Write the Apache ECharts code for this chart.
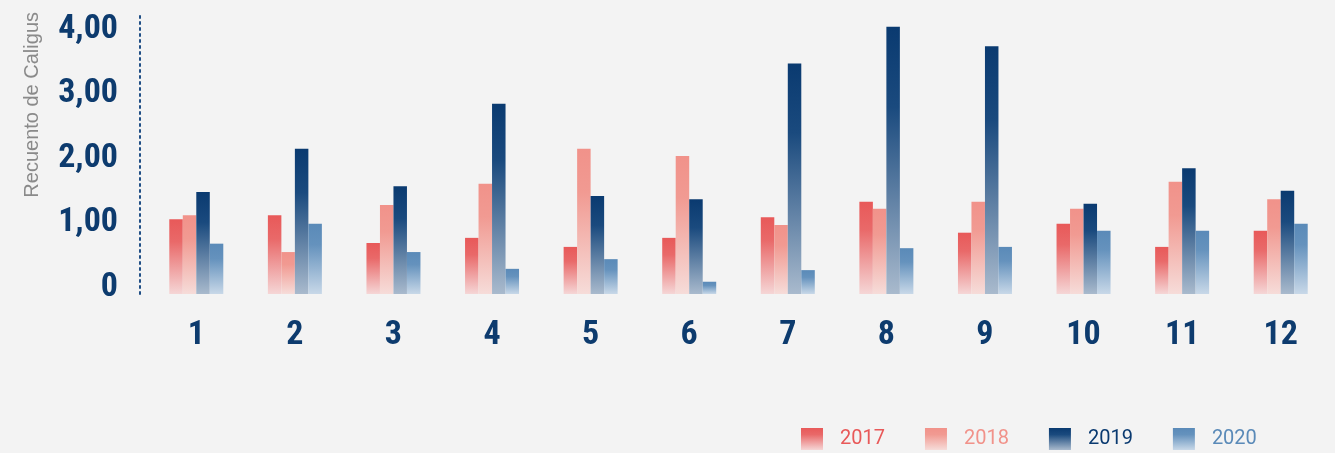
<!DOCTYPE html>
<html>
<head>
<meta charset="utf-8">
<title>Recuento de Caligus</title>
<script src="https://cdn.jsdelivr.net/npm/echarts@6/dist/echarts.min.js"></script>
<style>
  html, body { margin: 0; padding: 0; background: #f3f3f3; }
  #chart { width: 1335px; height: 453px; }
</style>
</head>
<body>
<div id="chart"></div>
<script>
// months on the x axis
const months = ['1', '2', '3', '4', '5', '6', '7', '8', '9', '10', '11', '12']

// yearly counts
const y2017 = [1.16, 1.22, 0.79, 0.87, 0.73, 0.87, 1.19, 1.43, 0.95, 1.09, 0.73, 0.98]
const y2018 = [1.22, 0.65, 1.38, 1.71, 2.25, 2.14, 1.07, 1.32, 1.43, 1.32, 1.74, 1.47]
const y2019 = [1.58, 2.25, 1.67, 2.95, 1.52, 1.47, 3.57, 4.14, 3.84, 1.40, 1.95, 1.60]
const y2020 = [0.78, 1.09, 0.65, 0.39, 0.54, 0.19, 0.37, 0.71, 0.73, 0.98, 0.98, 1.09]

const yearNames = ['2017', '2018', '2019', '2020']
const yTicks = [0, 1, 2, 3, 4]

const palette = [
  { top: '#e85959', mid: '#e96969', bottom: '#f5d6d6', text: '#e85959' },
  { top: '#f1928a', mid: '#f19a92', bottom: '#f6dcd9', text: '#f1928a' },
  { top: '#0a3a70', mid: '#1a4a7e', bottom: '#a9bacd', text: '#0a3a70' },
  { top: '#5a8ab8', mid: '#6592bd', bottom: '#c8d8e8', text: '#5a8ab8' }
]

const grad = (c) => new echarts.graphic.LinearGradient(0, 0, 0, 1, [
  { offset: 0, color: c.top },
  { offset: 0.3, color: c.mid },
  { offset: 1, color: c.bottom }
])

const labelFont = '"Roboto Condensed", "Liberation Sans Narrow", Roboto, sans-serif'

const chart = echarts.init(document.getElementById('chart'))

const option = {
  backgroundColor: '#f3f3f3',
  animation: false,
  grid: {
    top: 12,
    bottom: 159,
    left: 147,
    right: 5
  },
  legend: {
    left: 796,
    top: 423,
    itemWidth: 22,
    itemHeight: 22,
    itemGap: 40,
    icon: 'rect',
    data: yearNames.map((name, i) => ({
      name,
      textStyle: { color: palette[i].text }
    })),
    textStyle: {
      fontSize: 20,
      fontFamily: 'Roboto, sans-serif',
      padding: [0, 0, 0, 12]
    }
  },
  graphic: [{
    type: 'text',
    left: 22,
    top: 12,
    rotation: Math.PI / 2,
    style: {
      text: 'Recuento de Caligus',
      fill: '#8a8a8a',
      fontSize: 20,
      fontFamily: '"Liberation Sans", Arial, sans-serif'
    }
  }],
  xAxis: {
    type: 'category',
    data: months,
    axisLine: { show: false },
    axisTick: { show: false },
    axisLabel: {
      color: '#0d3b6e',
      fontSize: 34,
      fontWeight: 'bold',
      fontFamily: labelFont,
      margin: 24
    }
  },
  yAxis: {
    type: 'value',
    min: 0,
    max: 4.37,
    interval: 1,
    offset: 7,
    axisLine: {
      show: true,
      lineStyle: { color: '#1f4e85', type: [2, 4], width: 2 }
    },
    axisTick: { show: false },
    splitLine: { show: false },
    axisLabel: {
      color: '#0d3b6e',
      fontSize: 34,
      fontWeight: 'bold',
      fontFamily: labelFont,
      margin: 22,
      verticalAlign: 'bottom',
      lineHeight: 13,
      formatter: (v) => {
        if (!yTicks.includes(v)) return ''
        return v === 0 ? '0' : v.toFixed(2).replace('.', ',')
      }
    }
  },
  series: [y2017, y2018, y2019, y2020].map((data, i) => ({
    name: yearNames[i],
    type: 'bar',
    data,
    barWidth: 13.5,
    barGap: '0%',
    itemStyle: { color: grad(palette[i]) }
  }))
}

chart.setOption(option)
</script>
</body>
</html>
